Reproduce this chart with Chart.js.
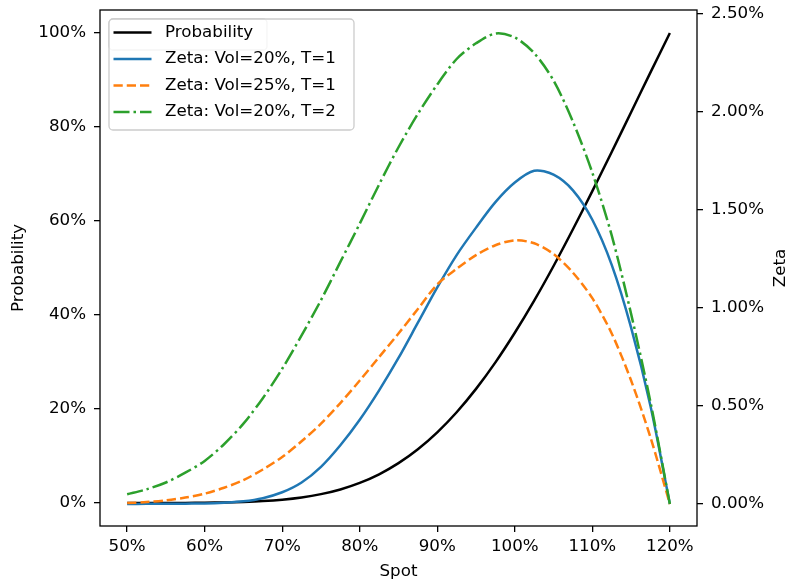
<!DOCTYPE html>
<html>
<head>
<meta charset="utf-8">
<title>Probability and Zeta</title>
<script src="https://cdn.jsdelivr.net/npm/chart.js@4.4.0/dist/chart.umd.min.js"></script>
<style>
  html, body { margin: 0; padding: 0; background: #fff; }
  canvas { display: block; }
</style>
</head>
<body>
<canvas id="chart" width="787" height="586"></canvas>
<script>
// spot in % of barrier level
const spot = [50, 52.5, 55, 57.5, 60, 62.5, 65, 67.5, 70, 72.5, 75, 77.5, 80, 82.5, 85, 87.5, 90, 92.5, 95, 97.5, 100, 102.5, 105, 107.5, 110, 112.5, 115, 117.5, 120];
const probability = [0, 0, 0.01, 0.02, 0.05, 0.11, 0.22, 0.40, 0.70, 1.17, 1.88, 2.88, 4.27, 6.10, 8.47, 11.43, 15.03, 19.31, 24.28, 29.92, 36.22, 43.06, 50.43, 58.24, 66.36, 74.69, 83.15, 91.62, 100];
const zetaVol20T1 = [0, 0.001, 0.001, 0.002, 0.003, 0.007, 0.014, 0.03, 0.06, 0.11, 0.19, 0.30, 0.43, 0.58, 0.745, 0.925, 1.105, 1.27, 1.41, 1.54, 1.64, 1.70, 1.68, 1.60, 1.45, 1.22, 0.90, 0.50, 0];
const zetaVol25T1 = [0.005, 0.01, 0.019, 0.033, 0.053, 0.083, 0.122, 0.176, 0.24, 0.32, 0.41, 0.515, 0.63, 0.75, 0.87, 0.995, 1.12, 1.20, 1.27, 1.32, 1.345, 1.33, 1.275, 1.18, 1.05, 0.87, 0.63, 0.34, 0];
const zetaVol20T2 = [0.05, 0.075, 0.11, 0.16, 0.22, 0.305, 0.41, 0.54, 0.69, 0.86, 1.04, 1.235, 1.43, 1.63, 1.82, 1.99, 2.14, 2.27, 2.35, 2.40, 2.38, 2.30, 2.16, 1.95, 1.69, 1.37, 0.97, 0.52, 0];

const spotTicks = [50, 60, 70, 80, 90, 100, 110, 120];
const probTicks = [0, 20, 40, 60, 80, 100];
const zetaTicks = [0, 0.5, 1, 1.5, 2, 2.5];

const FONT = 'DejaVu Sans';
const FS = 16.7;

Chart.defaults.font.family = FONT;
Chart.defaults.font.size = FS;
Chart.defaults.color = '#000';

const toPoints = vals => spot.map((s, i) => ({ x: s, y: vals[i] }));
const setTicks = list => axis => { axis.ticks = list.map(v => ({ value: v })); };

function roundRect(ctx, x, y, w, h, r) {
    ctx.beginPath();
    ctx.moveTo(x + r, y);
    ctx.arcTo(x + w, y, x + w, y + h, r);
    ctx.arcTo(x + w, y + h, x, y + h, r);
    ctx.arcTo(x, y + h, x, y, r);
    ctx.arcTo(x, y, x + w, y, r);
    ctx.closePath();
}

// black box round the plot + right axis title (matplotlib reads it bottom to top)
const frame = {
    id: 'frame',
    afterDatasetsDraw(chart) {
        const { ctx, chartArea: a } = chart;
        ctx.save();
        ctx.strokeStyle = '#000';
        ctx.lineWidth = 1.3;
        ctx.strokeRect(a.left, a.top, a.right - a.left, a.bottom - a.top);
        ctx.translate(chart.width - 6, (a.top + a.bottom) / 2);
        ctx.rotate(-Math.PI / 2);
        ctx.fillStyle = '#000';
        ctx.font = `${FS}px "${FONT}"`;
        ctx.textAlign = 'center';
        ctx.textBaseline = 'middle';
        ctx.fillText('Zeta', 0, 0);
        ctx.restore();
    }
};

// two stacked legends, like twinx axes each calling legend()
const boxLegend = {
    id: 'boxLegend',
    afterDraw(chart) {
        const { ctx, chartArea: a } = chart;
        const left = a.left + 9, top = a.top + 9;
        ctx.save();
        ctx.lineWidth = 1.3;
        ctx.strokeStyle = '#cccccc';

        roundRect(ctx, left, top, 158, 31, 4);
        ctx.fillStyle = '#fff'; ctx.fill(); ctx.stroke();
        roundRect(ctx, left, top, 245, 111, 4);
        ctx.fillStyle = 'rgba(255,255,255,0.8)'; ctx.fill(); ctx.stroke();

        ctx.font = `${FS}px "${FONT}"`;
        ctx.textBaseline = 'middle';
        chart.data.datasets.forEach((ds, i) => {
            const y = top + 13.5 + i * 26.5;
            ctx.beginPath();
            ctx.setLineDash(ds.borderDash || []);
            ctx.strokeStyle = ds.borderColor;
            ctx.lineWidth = ds.borderWidth;
            ctx.moveTo(left + 4.5, y);
            ctx.lineTo(left + 42.5, y);
            ctx.stroke();
            ctx.setLineDash([]);
            ctx.fillStyle = '#000';
            ctx.fillText(ds.label, left + 56, y);
        });
        ctx.restore();
    }
};

const tickGrid = { display: true, drawOnChartArea: false, drawTicks: true, tickLength: 6, color: '#000', lineWidth: 1.3 };
const noPad = axis => { axis.paddingTop = 0; axis.paddingBottom = 0; axis.paddingLeft = 0; axis.paddingRight = 0; };

new Chart(document.getElementById('chart'), {
    type: 'line',
    data: {
        datasets: [
            { label: 'Probability', data: toPoints(probability), yAxisID: 'y', borderColor: '#000000', borderWidth: 2.5, order: 4 },
            { label: 'Zeta: Vol=20%, T=1', data: toPoints(zetaVol20T1), yAxisID: 'y2', borderColor: '#1f77b4', borderWidth: 2.5, order: 3 },
            { label: 'Zeta: Vol=25%, T=1', data: toPoints(zetaVol25T1), yAxisID: 'y2', borderColor: '#ff7f0e', borderWidth: 2.5, borderDash: [9.25, 4], order: 2 },
            { label: 'Zeta: Vol=20%, T=2', data: toPoints(zetaVol20T2), yAxisID: 'y2', borderColor: '#2ca02c', borderWidth: 2.5, borderDash: [16, 4, 2.5, 4], order: 1 }
        ]
    },
    options: {
        responsive: false,
        animation: false,
        devicePixelRatio: 1,
        layout: { padding: { top: 10, left: 0, right: 0, bottom: 0 } },
        elements: {
            point: { radius: 0 },
            line: { tension: 0.3, fill: false }
        },
        plugins: { legend: { display: false }, tooltip: { enabled: false } },
        scales: {
            x: {
                type: 'linear', position: 'bottom', min: 46.5, max: 123.5,
                afterBuildTicks: setTicks(spotTicks),
                afterFit: axis => { noPad(axis); axis.height = 60; },
                grid: tickGrid, border: { display: false },
                ticks: { padding: 5, autoSkip: false, maxRotation: 0, callback: v => v + '%' },
                title: { display: true, text: 'Spot', padding: { top: 0, bottom: 4 } }
            },
            y: {
                type: 'linear', position: 'left', min: -4.9, max: 104.9,
                afterBuildTicks: setTicks(probTicks),
                afterFit: axis => { noPad(axis); axis.width = 100; },
                grid: tickGrid, border: { display: false },
                ticks: { padding: 8, callback: v => v + '%' },
                title: { display: true, text: 'Probability', padding: { top: 9, bottom: 0 } }
            },
            y2: {
                type: 'linear', position: 'right', min: -0.112, max: 2.52,
                afterBuildTicks: setTicks(zetaTicks),
                afterFit: axis => { noPad(axis); axis.width = 90; },
                grid: tickGrid, border: { display: false },
                ticks: { padding: 8, callback: v => v.toFixed(2) + '%' }
            }
        }
    },
    plugins: [frame, boxLegend]
});
</script>
</body>
</html>
